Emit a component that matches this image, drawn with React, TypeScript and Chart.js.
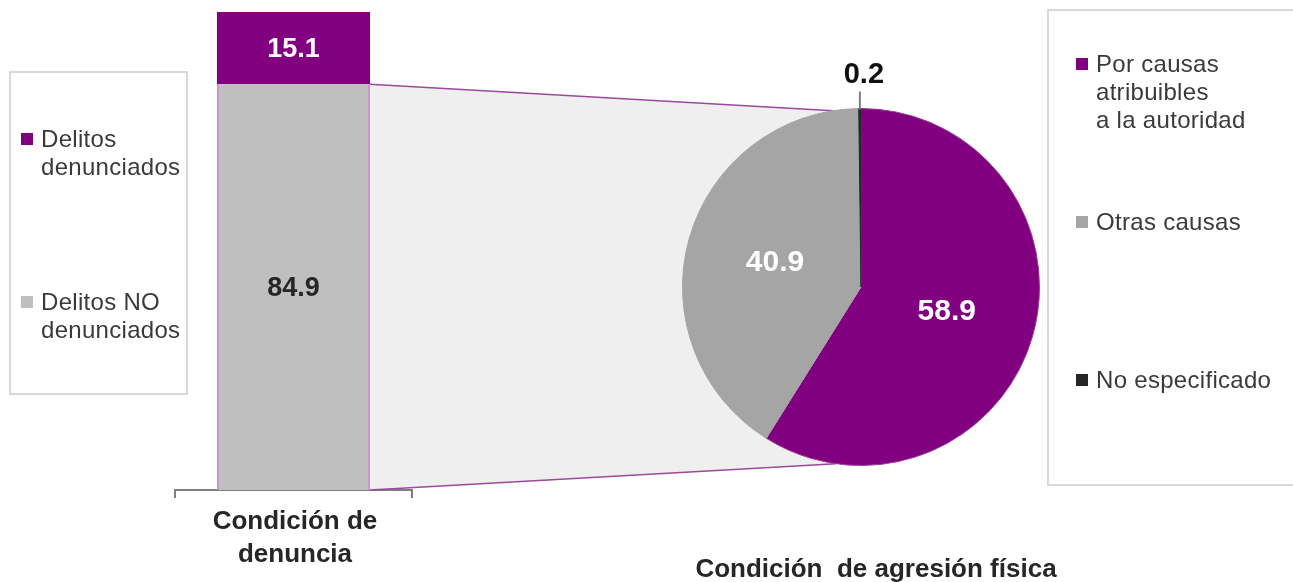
import React, { useEffect, useRef } from 'react';
import { Chart, registerables } from 'chart.js';

Chart.register(...registerables);

// ---- data ----
const barCategories = ['Condición de\ndenuncia'];
const barSeriesLabels = ['Delitos\ndenunciados', 'Delitos NO\ndenunciados'];
const reportedValues = [15.1];
const unreportedValues = [84.9];

const pieTitle = 'Condición  de agresión física';
const pieCategories = ['Por causas\natribuibles\na la autoridad', 'Otras causas', 'No especificado'];
const pieValues = [58.9, 40.9, 0.2];

// ---- styles ----
const W = 1293;
const H = 582;
const FONT = '"Liberation Sans", Arial, Helvetica, sans-serif';
const PURPLE = '#800080';
const BAR_GRAY = '#bfbfbf';
const PIE_COLORS = [PURPLE, '#a5a5a5', '#262626'];
const BAR_COLORS = [PURPLE, BAR_GRAY];
const TEXT = '#3a3a3a';

export default function App() {
  const barRef = useRef<HTMLCanvasElement | null>(null);
  const pieRef = useRef<HTMLCanvasElement | null>(null);

  useEffect(() => {
    if (!barRef.current || !pieRef.current) return;

    const pieLabelPlugin = {
      id: 'pieLabels',
      afterDatasetsDraw(chart: any) {
        const ctx = chart.ctx;
        const meta = chart.getDatasetMeta(0);
        meta.data.forEach((arc: any, i: number) => {
          const v = pieValues[i];
          const p = arc.getProps(['x', 'y', 'startAngle', 'endAngle', 'outerRadius'], true);
          const text = v.toFixed(1);
          ctx.save();
          ctx.textAlign = 'center';
          ctx.textBaseline = 'middle';
          if (v < 5) {
            const mid = (p.startAngle + p.endAngle) / 2;
            const ax = p.x + p.outerRadius * Math.cos(mid);
            const ay = p.y + p.outerRadius * Math.sin(mid);
            ctx.strokeStyle = '#7f7f7f';
            ctx.lineWidth = 2;
            ctx.beginPath();
            ctx.moveTo(ax, ay + 1);
            ctx.lineTo(ax, ay - 17);
            ctx.stroke();
            ctx.fillStyle = '#111111';
            ctx.font = `bold 29px ${FONT}`;
            ctx.fillText(text, ax + 4, ay - 34);
          } else {
            const c = arc.getCenterPoint();
            ctx.fillStyle = '#ffffff';
            ctx.font = `bold 30px ${FONT}`;
            ctx.fillText(text, c.x, c.y);
          }
          ctx.restore();
        });
      },
    };

    const pieChart = new Chart(pieRef.current, {
      type: 'pie',
      data: {
        labels: pieCategories,
        datasets: [
          {
            data: pieValues,
            backgroundColor: PIE_COLORS,
            borderColor: ['#9a3d9a', '#a5a5a5', '#262626'],
            borderWidth: 1,
            hoverOffset: 0,
          },
        ],
      },
      options: {
        responsive: false,
        animation: false,
        events: [],
        layout: { padding: { left: 682, right: 253, top: 107, bottom: 115 } },
        plugins: { legend: { display: false }, tooltip: { enabled: false } },
      },
      plugins: [pieLabelPlugin],
    } as any);

    const connectorPlugin = {
      id: 'connectors',
      beforeDatasetsDraw(chart: any) {
        const ctx = chart.ctx;
        const el = chart.getDatasetMeta(0).data[0];
        const b = el.getProps(['x', 'y', 'base', 'width'], true);
        const right = b.x + b.width / 2;
        const arc = pieChart.getDatasetMeta(0).data[0] as any;
        const a = arc.getProps(['x', 'y', 'outerRadius'], true);
        const t1 = (-99 * Math.PI) / 180;
        const t2 = (98 * Math.PI) / 180;
        const p1x = a.x + a.outerRadius * Math.cos(t1);
        const p1y = a.y + a.outerRadius * Math.sin(t1);
        const p2x = a.x + a.outerRadius * Math.cos(t2);
        const p2y = a.y + a.outerRadius * Math.sin(t2);
        ctx.save();
        ctx.fillStyle = '#efefef';
        ctx.beginPath();
        ctx.moveTo(right, b.y);
        ctx.lineTo(p1x, p1y);
        ctx.lineTo(p2x, p2y);
        ctx.lineTo(right, b.base);
        ctx.closePath();
        ctx.fill();
        ctx.strokeStyle = '#9b4a9b';
        ctx.lineWidth = 1.5;
        ctx.beginPath();
        ctx.moveTo(right, b.y);
        ctx.lineTo(p1x, p1y);
        ctx.moveTo(right, b.base);
        ctx.lineTo(p2x, p2y);
        ctx.stroke();
        ctx.restore();
      },
    };

    const barLabelPlugin = {
      id: 'barLabels',
      afterDatasetsDraw(chart: any) {
        const ctx = chart.ctx;
        chart.data.datasets.forEach((ds: any, di: number) => {
          const meta = chart.getDatasetMeta(di);
          meta.data.forEach((el: any, i: number) => {
            const p = el.getProps(['x', 'y', 'base'], true);
            const v = ds.data[i] as number;
            ctx.save();
            ctx.textAlign = 'center';
            ctx.textBaseline = 'middle';
            ctx.font = `bold 27px ${FONT}`;
            ctx.fillStyle = di === 1 ? '#ffffff' : '#262626';
            ctx.fillText(v.toFixed(1), p.x, (p.y + p.base) / 2 + 1);
            ctx.restore();
          });
        });
      },
    };

    const barChart = new Chart(barRef.current, {
      type: 'bar',
      data: {
        labels: barCategories,
        datasets: [
          {
            label: barSeriesLabels[1],
            data: unreportedValues,
            backgroundColor: BAR_GRAY,
            borderColor: '#c892c8',
            borderWidth: { left: 2, right: 2, top: 0, bottom: 0 },
            borderSkipped: false,
            barPercentage: 0.646,
            categoryPercentage: 1,
          },
          {
            label: barSeriesLabels[0],
            data: reportedValues,
            backgroundColor: PURPLE,
            borderWidth: 0,
            barPercentage: 0.646,
            categoryPercentage: 1,
          },
        ],
      },
      options: {
        responsive: false,
        animation: false,
        events: [],
        layout: { padding: { left: 175, right: 881, top: 12, bottom: 84 } },
        plugins: { legend: { display: false }, tooltip: { enabled: false } },
        scales: {
          x: {
            stacked: true,
            offset: true,
            ticks: { display: false },
            grid: {
              offset: true,
              drawOnChartArea: false,
              drawTicks: true,
              tickLength: 8,
              color: '#7f7f7f',
              lineWidth: 2,
            },
            border: { display: true, color: '#7f7f7f', width: 2 },
          },
          y: { stacked: true, display: false, min: 0, max: 100 },
        },
      },
      plugins: [connectorPlugin, barLabelPlugin],
    } as any);

    return () => {
      barChart.destroy();
      pieChart.destroy();
    };
  }, []);

  const legendText: React.CSSProperties = {
    position: 'absolute',
    fontFamily: FONT,
    fontSize: 24,
    lineHeight: '28px',
    color: TEXT,
    whiteSpace: 'pre',
    letterSpacing: '0.3px',
  };
  const box: React.CSSProperties = {
    position: 'absolute',
    border: '2px solid #d9d9d9',
    boxSizing: 'border-box',
    background: '#ffffff',
  };
  const titleStyle: React.CSSProperties = {
    position: 'absolute',
    fontFamily: FONT,
    fontWeight: 'bold',
    fontSize: 26,
    color: '#262626',
    textAlign: 'center',
  };

  const leftTops = [125, 288];
  const rightTops = [50, 208, 366];

  return (
    <div
      style={{
        position: 'fixed',
        left: 0,
        top: 0,
        width: W,
        height: H,
        background: '#ffffff',
        overflow: 'hidden',
      }}
    >
      <div style={{ ...box, left: 9, top: 71, width: 179, height: 324 }} />
      <div style={{ ...box, left: 1047, top: 9, width: 270, height: 477 }} />
      <canvas ref={barRef} width={W} height={H} style={{ position: 'absolute', left: 0, top: 0 }} />
      <canvas ref={pieRef} width={W} height={H} style={{ position: 'absolute', left: 0, top: 0 }} />

      {barSeriesLabels.map((lab, i) => (
        <React.Fragment key={'l' + i}>
          <div
            style={{
              position: 'absolute',
              left: 21,
              top: leftTops[i] + 8,
              width: 12,
              height: 12,
              background: BAR_COLORS[i],
            }}
          />
          <div style={{ ...legendText, left: 41, top: leftTops[i] }}>{lab}</div>
        </React.Fragment>
      ))}

      {pieCategories.map((lab, i) => (
        <React.Fragment key={'r' + i}>
          <div
            style={{
              position: 'absolute',
              left: 1076,
              top: rightTops[i] + 8,
              width: 12,
              height: 12,
              background: PIE_COLORS[i],
            }}
          />
          <div style={{ ...legendText, left: 1096, top: rightTops[i] }}>{lab}</div>
        </React.Fragment>
      ))}

      <div
        style={{
          ...titleStyle,
          left: 145,
          top: 504,
          width: 300,
          lineHeight: '33px',
          whiteSpace: 'pre',
        }}
      >
        {barCategories[0]}
      </div>
      <div
        style={{
          ...titleStyle,
          left: 576,
          top: 553,
          width: 600,
          lineHeight: '30px',
          whiteSpace: 'pre',
        }}
      >
        {pieTitle}
      </div>
    </div>
  );
}
